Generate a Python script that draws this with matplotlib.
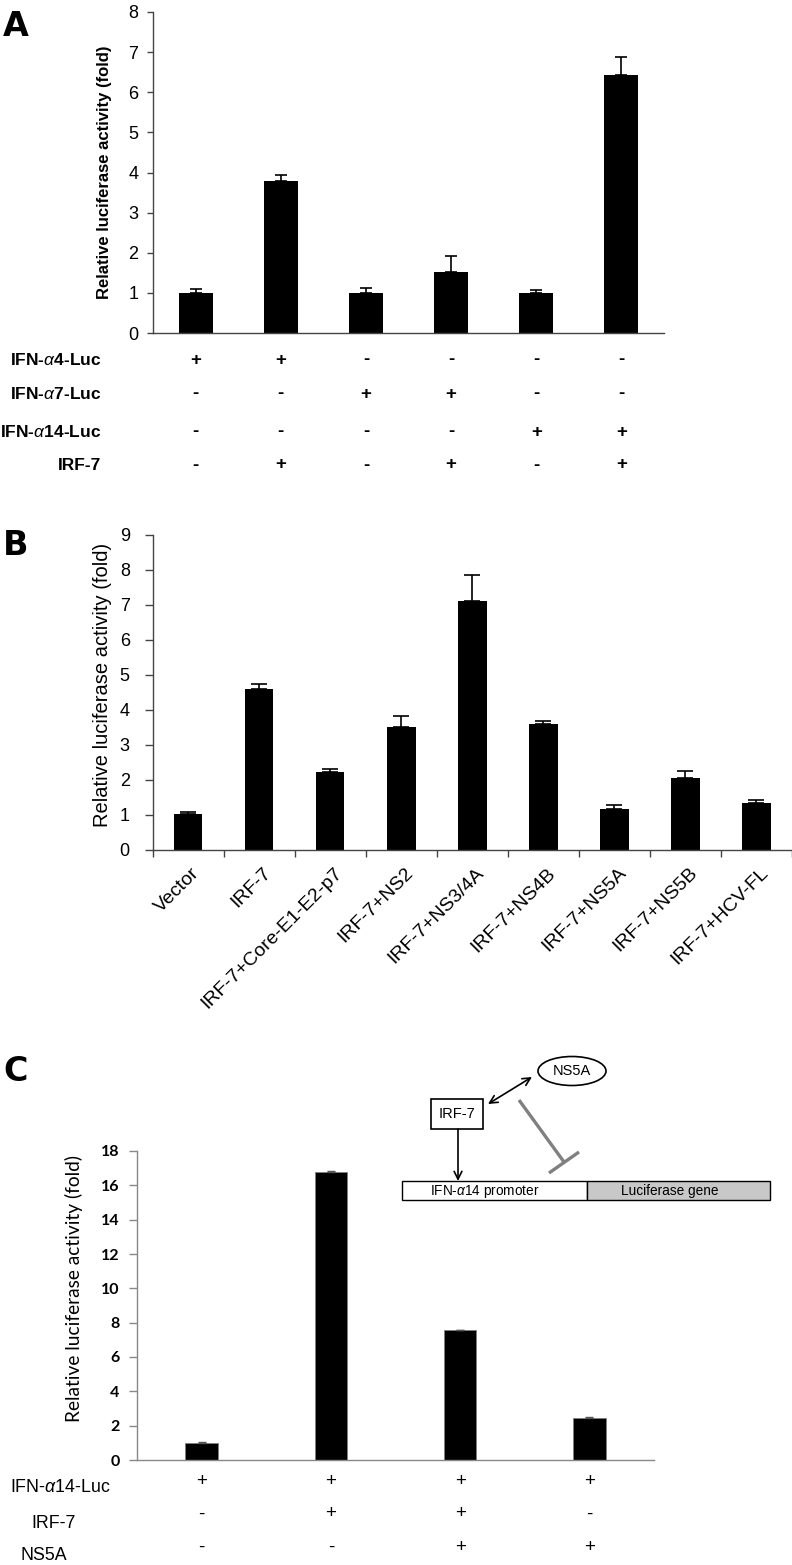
import matplotlib
matplotlib.use('Agg')
import matplotlib.pyplot as plt
import numpy as np
from matplotlib.patches import Ellipse, Rectangle, FancyArrowPatch
from matplotlib import transforms

plt.rcParams['font.family'] = ['Liberation Sans', 'DejaVu Sans']
plt.rcParams['mathtext.fontset'] = 'custom'
plt.rcParams['mathtext.it'] = 'Liberation Sans:italic'
plt.rcParams['mathtext.rm'] = 'Liberation Sans'
plt.rcParams['mathtext.bf'] = 'Liberation Sans:bold'

W, H = 792, 1565

# ---------------- data ----------------
# Panel A
a_values = [1.0, 3.8, 1.0, 1.52, 1.0, 6.42]
a_errors = [0.09, 0.14, 0.12, 0.39, 0.07, 0.45]
a_row_labels = [r'IFN-$\alpha$4-Luc', r'IFN-$\alpha$7-Luc', r'IFN-$\alpha$14-Luc', 'IRF-7']
a_signs = [['+', '+', '-', '-', '-', '-'],
           ['-', '-', '+', '+', '-', '-'],
           ['-', '-', '-', '-', '+', '+'],
           ['-', '+', '-', '+', '-', '+']]
a_yticks = [0, 1, 2, 3, 4, 5, 6, 7, 8]

# Panel B
b_categories = ['Vector', 'IRF-7', 'IRF-7+Core-E1-E2-p7', 'IRF-7+NS2', 'IRF-7+NS3/4A',
                'IRF-7+NS4B', 'IRF-7+NS5A', 'IRF-7+NS5B', 'IRF-7+HCV-FL']
b_values = [1.02, 4.61, 2.22, 3.52, 7.10, 3.60, 1.17, 2.07, 1.33]
b_errors = [0.07, 0.13, 0.10, 0.32, 0.76, 0.09, 0.12, 0.19, 0.10]
b_yticks = [0, 1, 2, 3, 4, 5, 6, 7, 8, 9]

# Panel C
c_values = [1.0, 16.76, 7.55, 2.47]
c_errors = [0.05, 0.08, 0.05, 0.05]
c_row_labels = [r'IFN-$\alpha$14-Luc', 'IRF-7', 'NS5A']
c_signs = [['+', '+', '+', '+'],
           ['-', '+', '+', '-'],
           ['-', '-', '+', '+']]
c_yticks = [0, 2, 4, 6, 8, 10, 12, 14, 16, 18]

ylabel_text = 'Relative luciferase activity (fold)'

# ---------------- helpers ----------------
fig = plt.figure(figsize=(W / 100, H / 100), dpi=100)


def axes_px(l, t, r, b):
    return fig.add_axes([l / W, 1 - b / H, (r - l) / W, (b - t) / H])


def fy(y):
    return 1 - y / H


def fx(x):
    return x / W


def style_axes(ax, color):
    for s in ['top', 'right']:
        ax.spines[s].set_visible(False)
    for s in ['left', 'bottom']:
        ax.spines[s].set_color(color)
        ax.spines[s].set_linewidth(1.0)


# ---------------- Panel A ----------------
axA = axes_px(153, 12, 664, 333)
xa = np.arange(len(a_values))
axA.bar(xa, a_values, width=0.4, color='black',
        yerr=[np.zeros(len(a_values)), a_errors],
        error_kw=dict(ecolor='black', elinewidth=1.2, capsize=4.5, capthick=1.2))
axA.set_xlim(-0.5, len(a_values) - 0.5)
axA.set_ylim(0, 8)
style_axes(axA, '#444444')
axA.set_xticks([])
axA.set_yticks(a_yticks)
axA.tick_params(axis='y', direction='out', length=4, width=1, color='#444444',
                labelsize=13, pad=6.5)
fig.text(fx(104), fy(172), ylabel_text, rotation=90, ha='center', va='center',
         fontsize=12, fontweight='bold')

blendA = transforms.blended_transform_factory(axA.transData, fig.transFigure)
a_row_y = [360, 394, 432, 465]
for i, lab in enumerate(a_row_labels):
    fig.text(fx(101), fy(a_row_y[i]), lab, ha='right', va='center',
             fontsize=12.5, fontweight='bold')
    for j, s in enumerate(a_signs[i]):
        axA.text(xa[j], fy(a_row_y[i]), s, transform=blendA, ha='center', va='center',
                 fontsize=13.5, fontweight='bold', clip_on=False)

# ---------------- Panel B ----------------
axB = axes_px(152.7, 535, 792, 850)
xb = np.arange(len(b_values))
axB.bar(xb, b_values, width=0.4, color='black',
        yerr=[np.zeros(len(b_values)), b_errors],
        error_kw=dict(ecolor='black', elinewidth=1.2, capsize=5.5, capthick=1.2))
axB.set_xlim(-0.5, len(b_values) - 0.5)
axB.set_ylim(0, 9)
style_axes(axB, '#444444')
axB.set_yticks(b_yticks)
axB.tick_params(axis='y', direction='out', length=6, width=1, color='#444444',
                labelsize=13, pad=10.5)
axB.set_xticks(xb)
axB.set_xticklabels(b_categories, rotation=45, ha='right', va='top',
                    rotation_mode='anchor', fontsize=14)
axB.set_xticks(np.arange(-0.5, len(b_values), 1.0), minor=True)
axB.tick_params(axis='x', which='major', length=0, pad=10.5)
axB.tick_params(axis='x', which='minor', direction='out', length=5, width=1, color='#444444')
offset = transforms.ScaledTranslation(3 / 100, 0, fig.dpi_scale_trans)
for lbl in axB.get_xticklabels():
    lbl.set_transform(lbl.get_transform() + offset)
fig.text(fx(103), fy(685), ylabel_text, rotation=90, ha='center', va='center',
         fontsize=14.5)

# ---------------- Panel C ----------------
axC = axes_px(137, 1151, 654, 1460)
xc = np.arange(len(c_values))
axC.bar(xc, c_values, width=0.25, color='black', edgecolor='#808080', linewidth=0.6,
        yerr=[np.zeros(len(c_values)), c_errors],
        error_kw=dict(ecolor='#555555', elinewidth=1.0, capsize=3, capthick=1.0))
axC.set_xlim(-0.5, len(c_values) - 0.5)
axC.set_ylim(0, 18)
style_axes(axC, '#888888')
axC.set_xticks([])
axC.set_yticks(c_yticks)
axC.tick_params(axis='y', direction='out', length=6, width=1, color='#888888',
                labelsize=11.5, pad=6.5)
for t in axC.get_yticklabels():
    t.set_fontfamily(['Lato', 'DejaVu Sans'])
    t.set_fontweight('bold')
fig.text(fx(74), fy(1289), ylabel_text, rotation=90, ha='center', va='center',
         fontsize=13.8, family=['Lato', 'DejaVu Sans'])

blendC = transforms.blended_transform_factory(axC.transData, fig.transFigure)
c_label_x = [10, 31, 20]
c_row_y = [1487, 1524, 1556]
c_sign_y = [1482, 1514, 1547]
for i, lab in enumerate(c_row_labels):
    fig.text(fx(c_label_x[i]), fy(c_row_y[i]), lab, ha='left', va='center', fontsize=12.8)
    for j, s in enumerate(c_signs[i]):
        axC.text(xc[j], fy(c_sign_y[i]), s, transform=blendC, ha='center', va='center',
                 fontsize=13.5, clip_on=False)

# ---------------- Diagram (panel C inset) ----------------
axD = fig.add_axes([0, 0, 1, 1])
axD.set_xlim(0, W)
axD.set_ylim(H, 0)
axD.axis('off')
axD.add_patch(Ellipse((572, 1071), 68, 29, facecolor='white', edgecolor='black', lw=1.2))
axD.text(572, 1071, 'NS5A', ha='center', va='center', fontsize=10.5)
axD.add_patch(Rectangle((431, 1099), 52, 30, facecolor='white', edgecolor='black', lw=1.2))
axD.text(457, 1114, 'IRF-7', ha='center', va='center', fontsize=10.5)
axD.add_patch(FancyArrowPatch((488, 1104), (532, 1077), arrowstyle='<->', mutation_scale=14,
                              color='black', lw=1.2, shrinkA=0, shrinkB=0))
axD.add_patch(FancyArrowPatch((458, 1129), (458, 1181), arrowstyle='->', mutation_scale=14,
                              color='black', lw=1.2, shrinkA=0, shrinkB=0))
axD.plot([519, 564], [1100, 1162], color='#808080', lw=2.4, solid_capstyle='butt')
axD.plot([549, 579], [1173, 1152], color='#808080', lw=2.4, solid_capstyle='butt')
axD.add_patch(Rectangle((402, 1181), 185, 19, facecolor='white', edgecolor='black', lw=1.0))
axD.add_patch(Rectangle((587, 1181), 183, 19, facecolor='#c8c8c8', edgecolor='black', lw=1.0))
axD.text(485, 1191, r'IFN-$\alpha$14 promoter', ha='center', va='center', fontsize=9.8)
axD.text(670, 1191, 'Luciferase gene', ha='center', va='center', fontsize=9.8)

# ---------------- Panel letters ----------------
for letter, y in [('A', 10), ('B', 529), ('C', 1055)]:
    fig.text(fx(3), fy(y), letter, ha='left', va='top', fontsize=24, fontweight='bold',
             family=['DejaVu Sans'])

fig.savefig('out.png', dpi=100, facecolor='white')
